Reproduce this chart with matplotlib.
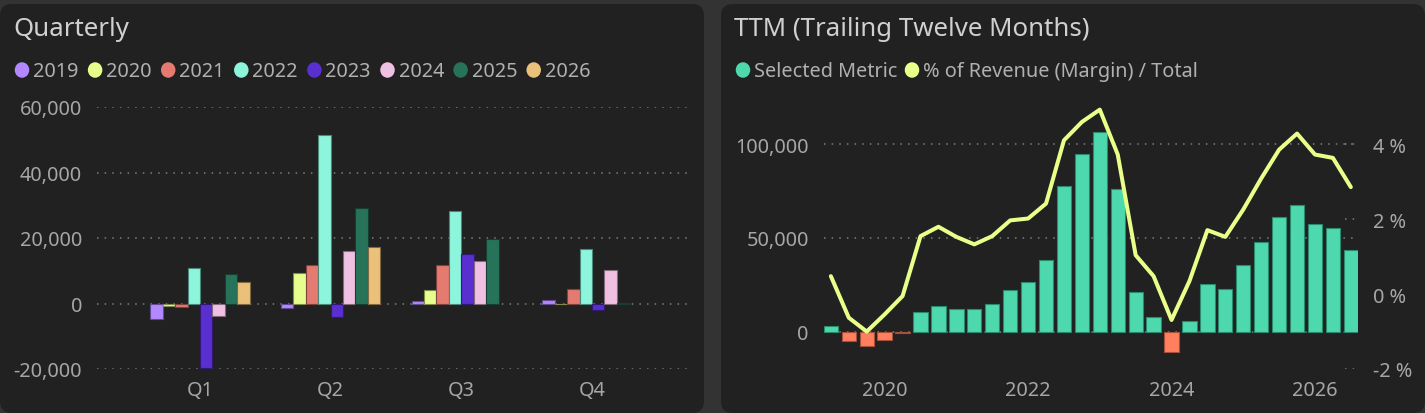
import matplotlib
matplotlib.use("Agg")
import matplotlib.pyplot as plt
from matplotlib.patches import FancyBboxPatch, Ellipse
from matplotlib.ticker import FuncFormatter
import numpy as np

plt.rcParams['font.family'] = ['Noto Sans', 'DejaVu Sans']

# ---------------- data ----------------
quarters = ['Q1', 'Q2', 'Q3', 'Q4']
years = ['2019', '2020', '2021', '2022', '2023', '2024', '2025', '2026']
year_colors = ['#b388ff', '#e6ff8c', '#e57a70', '#8cf5dc', '#5a2fd0', '#f0c0e2', '#26735a', '#ebc07a']
v2019 = [-4600, -1300, 700, 1000]
v2020 = [-700, 9400, 4000, -300]
v2021 = [-1100, 11800, 11700, 4300]
v2022 = [10700, 51300, 28300, 16700]
v2023 = [-19800, -4100, 15200, -2100]
v2024 = [-3900, 15900, 12900, 10300]
v2025 = [9000, 29100, 19700, 300]
v2026 = [6600, 17300, None, None]
quarterly = [v2019, v2020, v2021, v2022, v2023, v2024, v2025, v2026]

ttm_periods = ['2019Q2', '2019Q3', '2019Q4',
               '2020Q1', '2020Q2', '2020Q3', '2020Q4',
               '2021Q1', '2021Q2', '2021Q3', '2021Q4',
               '2022Q1', '2022Q2', '2022Q3', '2022Q4',
               '2023Q1', '2023Q2', '2023Q3', '2023Q4',
               '2024Q1', '2024Q2', '2024Q3', '2024Q4',
               '2025Q1', '2025Q2', '2025Q3', '2025Q4',
               '2026Q1', '2026Q2', '2026Q3']
ttm_metric = [3200, -4800, -7500, -4300, -700, 10400, 13600, 12300, 12100, 14500,
              22300, 26600, 38400, 77900, 94700, 106800, 76400, 21200, 8000, -10700,
              5400, 25200, 22900, 35400, 47900, 61100, 67900, 57700, 55400, 43700]
ttm_margin = [0.48, -0.63, -1.0, -0.54, -0.05, 1.55, 1.80, 1.53, 1.33, 1.55,
              1.97, 2.02, 2.42, 4.11, 4.60, 4.93, 3.73, 1.04, 0.48, -0.69,
              0.35, 1.71, 1.53, 2.26, 3.09, 3.86, 4.29, 3.73, 3.64, 2.86]
ttm_year_ticks = [2020, 2022, 2024, 2026]

# ---------------- figure ----------------
W, H, DPI = 1425, 414, 100
fig = plt.figure(figsize=(W / DPI, H / DPI), dpi=DPI)
fig.patch.set_facecolor('#333333')

BG = '#212121'
TITLE_C = '#d0d0d0'
TICK_C = '#a6a6a6'
LEG_C = '#b0b0b0'
GRID_C = '#7d7d7d'
FS_T = 18.6
FS = 14.3
PAD = 10.8


def px_axes(x0, x1, ytop, ybot):
    return fig.add_axes([x0 / W, 1 - ybot / H, (x1 - x0) / W, (ybot - ytop) / H])


def panel(x0, x1, ytop, ybot):
    p = FancyBboxPatch((x0 / DPI, (H - ybot) / DPI), (x1 - x0) / DPI, (ybot - ytop) / DPI,
                       boxstyle='round,pad=0,rounding_size=0.12',
                       transform=fig.dpi_scale_trans, facecolor=BG, edgecolor='none', zorder=0)
    fig.add_artist(p)


def legend_item(cx, cy, color, label):
    e = Ellipse((cx / DPI, (H - cy) / DPI), 0.145, 0.155, transform=fig.dpi_scale_trans,
                facecolor=color, edgecolor='none', zorder=5)
    fig.add_artist(e)
    fig.text((cx + 11) / W, 1 - 77.5 / H, label, color=LEG_C, fontsize=FS,
             ha='left', va='baseline')


panel(0, 704, 5, 414)
panel(721, 1425, 5, 414)

dots = (0, (1, 4))

# ---------------- left: quarterly ----------------
fig.text(13 / W, 1 - 36 / H, 'Quarterly', color=TITLE_C, fontsize=FS_T, ha='left', va='baseline')
for j, (yr, c) in enumerate(zip(years, year_colors)):
    legend_item(22 + j * 73.1, 71, c, yr)

ax = px_axes(97, 688, 108, 370)
ax.set_facecolor('none')
ax.set_ylim(-20000, 60000)
ax.set_xlim(-0.788, 3.735)
for s in ax.spines.values():
    s.set_visible(False)
ax.set_yticks([-20000, 0, 20000, 40000, 60000])
ax.yaxis.set_major_formatter(FuncFormatter(lambda v, p: f'{int(v):,}'))
ax.set_xticks(range(len(quarters)))
ax.set_xticklabels(quarters)
ax.tick_params(length=0, colors=TICK_C, labelsize=FS)
ax.tick_params(axis='y', pad=PAD)
ax.tick_params(axis='x', pad=8)
ax.grid(axis='y', color=GRID_C, linestyle=dots, linewidth=1.1)
ax.set_axisbelow(True)

bw = 0.0951
xq = np.arange(len(quarters))
for j, (vals, c) in enumerate(zip(quarterly, year_colors)):
    v = np.array([np.nan if a is None else a for a in vals], dtype=float)
    rgb = np.array(matplotlib.colors.to_rgb(c))
    ax.bar(xq + (j - 3.5) * bw, v, width=bw, color=c,
           edgecolor=tuple(rgb * 0.55), linewidth=0.8, zorder=3)

# ---------------- right: TTM ----------------
fig.text(734 / W, 1 - 36 / H, 'TTM (Trailing Twelve Months)', color=TITLE_C, fontsize=FS_T,
         ha='left', va='baseline')
GREEN = '#4dd9ad'
ORANGE = '#ff7f5e'
LINE = '#e8ff8a'
legend_item(743, 71, GREEN, 'Selected Metric')
legend_item(912, 71, LINE, '% of Revenue (Margin) / Total')

x_ttm = np.array([int(p[:4]) + (int(p[5]) - 1) / 4 for p in ttm_periods])
m = np.array(ttm_metric, dtype=float)

ax2 = px_axes(823.7, 1358, 108, 370)
ax2.set_facecolor('none')
ax2.set_ylim(-20000, 120000)
ax2.set_xlim(x_ttm[0] - 0.1, x_ttm[-1] + 0.1)
for s in ax2.spines.values():
    s.set_visible(False)
ax2.set_yticks([0, 50000, 100000])
ax2.yaxis.set_major_formatter(FuncFormatter(lambda v, p: f'{int(v):,}'))
ax2.set_xticks(ttm_year_ticks)
ax2.set_xticklabels([str(y) for y in ttm_year_ticks])
ax2.tick_params(length=0, colors=TICK_C, labelsize=FS)
ax2.tick_params(axis='y', pad=PAD)
ax2.tick_params(axis='x', pad=8)
ax2.grid(axis='y', color=GRID_C, linestyle=dots, linewidth=1.1)
ax2.set_axisbelow(True)

cols = [GREEN if v >= 0 else ORANGE for v in m]
edges = ['#2a8a6c' if v >= 0 else '#a4503a' for v in m]
ax2.bar(x_ttm, m, width=0.2, color=cols, edgecolor=edges, linewidth=0.8, zorder=3)

ax3 = ax2.twinx()
ax3.set_ylim(-2, 5)
ax3.set_yticks([-2, 0, 2, 4])
ax3.yaxis.set_major_formatter(FuncFormatter(lambda v, p: f'{int(v)} %'))
for s in ax3.spines.values():
    s.set_visible(False)
ax3.tick_params(length=0, colors=TICK_C, labelsize=FS, pad=PAD)
for t in [-2, 0, 2, 4]:
    ax2.axhline(-20000 + (t + 2) * 20000, xmin=0.975, xmax=1.0, color=GRID_C,
                linestyle=dots, linewidth=1.1, zorder=1)
ax3.plot(x_ttm, ttm_margin, color=LINE, linewidth=2.9, solid_capstyle='round',
         solid_joinstyle='round', zorder=5)

fig.savefig('out.png', dpi=DPI, facecolor=fig.get_facecolor())
